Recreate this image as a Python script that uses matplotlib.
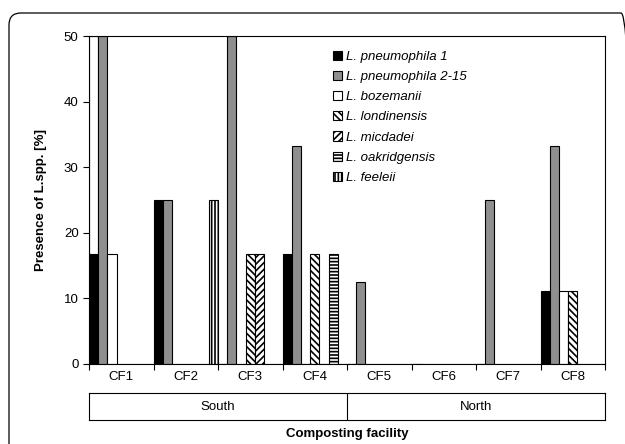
import numpy as np
import matplotlib
matplotlib.use('Agg')
from matplotlib import pyplot as plt
from matplotlib.patches import FancyBboxPatch

# data (percent of samples per composting facility)
facilities = ['CF1', 'CF2', 'CF3', 'CF4', 'CF5', 'CF6', 'CF7', 'CF8']
regions = ['South', 'North']
species = ['L. pneumophila 1', 'L. pneumophila 2-15', 'L. bozemanii', 'L. londinensis',
           'L. micdadei', 'L. oakridgensis', 'L. feeleii']

pneumophila1 = [16.7, 25.0, 0, 16.7, 0, 0, 0, 11.1]
pneumophila2_15 = [50.0, 25.0, 50.0, 33.3, 12.5, 0, 25.0, 33.3]
bozemanii = [16.7, 0, 0, 0, 0, 0, 0, 11.1]
londinensis = [0, 0, 16.7, 16.7, 0, 0, 0, 11.1]
micdadei = [0, 0, 16.7, 0, 0, 0, 0, 0]
oakridgensis = [0, 0, 0, 16.7, 0, 0, 0, 0]
feeleii = [0, 25.0, 0, 0, 0, 0, 0, 0]
# empty outline that shows behind the first CF1 bar in the original
cf1_outline = [50.0, 0, 0, 0, 0, 0, 0, 0]

series = [pneumophila1, pneumophila2_15, bozemanii, londinensis, micdadei, oakridgensis, feeleii]
colors = ['black', '#8f8f8f', 'white', 'white', 'white', 'white', 'white']
hatches = [None, None, None, '\\\\\\\\\\', '/////', '-----', '|||||']

plt.rcParams['font.family'] = ['Liberation Sans', 'DejaVu Sans']
plt.rcParams['hatch.linewidth'] = 1.2

fs = 9.5
fig = plt.figure(figsize=(6.25, 4.44), dpi=100)
ax = fig.add_axes([0.1424, 0.1802, 0.8256, 0.7387])

nSeries = len(series)
barW = 1.0 / nSeries
x = np.arange(len(facilities))

ax.bar(x + 0.5 * barW, cf1_outline, width=barW, color='white', edgecolor='black', linewidth=0.8)
for i in range(nSeries):
    ax.bar(x + (i + 0.5) * barW, series[i], width=barW, color=colors[i], edgecolor='black',
           linewidth=0.8, hatch=hatches[i], label=species[i])

ax.set_xlim(0, len(facilities))
ax.set_ylim(0, 50)
ax.set_yticks([0, 10, 20, 30, 40, 50])
ax.set_xticks(np.arange(len(facilities) + 1))
ax.set_xticklabels([])
ax.set_xticks(x + 0.5, minor=True)
ax.set_xticklabels(facilities, minor=True)
ax.tick_params(axis='x', which='minor', length=0, labelsize=fs, pad=5)
ax.tick_params(axis='both', which='major', direction='out', length=4, width=0.8, labelsize=fs)
for s in ax.spines.values():
    s.set_linewidth(0.8)

ax.set_ylabel('Presence of L.spp. [%]', fontsize=fs, fontweight='bold', labelpad=12)

ax.legend(loc='upper left', bbox_to_anchor=(0.473, 0.955), frameon=False,
          prop={'style': 'italic', 'size': fs}, handlelength=0.7, handleheight=0.7,
          handletextpad=0.25, labelspacing=0.6, borderpad=0, borderaxespad=0)

# region box under the facility labels
regAx = fig.add_axes([0.1424, 0.054, 0.8256, 0.0608])
regAx.set_xlim(0, len(facilities))
regAx.set_ylim(0, 1)
regAx.set_xticks([])
regAx.set_yticks([])
for s in regAx.spines.values():
    s.set_linewidth(0.8)
regAx.axvline(len(facilities) / 2, color='black', linewidth=0.8)
for i in range(len(regions)):
    regAx.text(len(facilities) / 4 * (2 * i + 1), 0.5, regions[i], ha='center', va='center', fontsize=fs)

fig.text(0.555, 0.022, 'Composting facility', ha='center', va='center', fontsize=fs, fontweight='bold')

# rounded outer frame
frame = FancyBboxPatch((0.09, -0.3), 6.24, 4.61, boxstyle='round,pad=0,rounding_size=0.12',
                       transform=fig.dpi_scale_trans, facecolor='none', edgecolor='black', linewidth=0.9)
fig.patches.append(frame)

plt.savefig('out.png', dpi=100)
plt.close()
